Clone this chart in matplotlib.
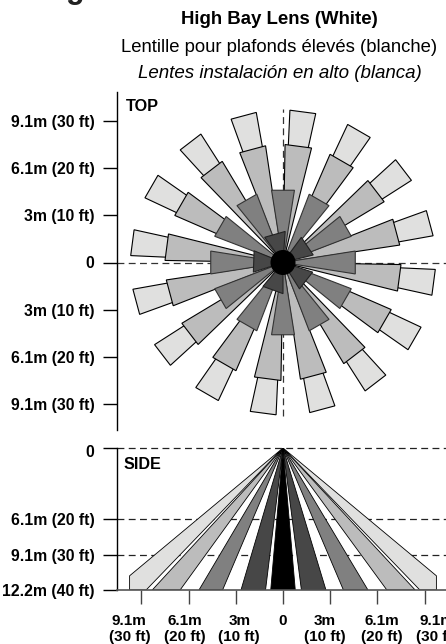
import numpy as np
import matplotlib
matplotlib.use("Agg")
import matplotlib.pyplot as plt
from matplotlib.patches import Polygon, Circle
from matplotlib.transforms import ScaledTranslation

plt.rcParams["font.family"] = ["Liberation Sans", "DejaVu Sans"]

# top view, feet: centre angle (deg from north), half width, reach
light_angles = [7.5, 30, 52.5, 75, 97.5, 120, 142.5, 165, 187.5, 210, 232.5, 255, 277.5, 300, 322.5, 345]
light_half = 4.9
light_reach = 32.3
medium_half = 6.5
medium_reach = 25.0
gray_angles = [0, 30, 60, 90, 120, 150, 180, 210, 240, 270, 300, 330]
gray_half = 9.0
gray_reach = 15.5
dark_angles = [344, 56, 128, 200, 272]
dark_half = 20.0
dark_reach = 6.6
hub_radius = 2.5
guide_reach = 32.6

# side view, feet at the 40 ft floor line
side_black = (-2.6, 2.6)
side_dark = [(-8.9, -3.7), (3.9, 9.1)]
side_gray = [(-17.8, -12.8), (12.8, 18.0)]
side_medium = [(-27.7, -21.8), (22.0, 28.0)]
side_light_inner = 29.0
side_light_cut_x = 32.5
side_light_cut_y = 36.0
side_floor = 40

top_ticks = [30, 20, 10, 0, -10, -20, -30]
top_labels = ["9.1m (30 ft)", "6.1m (20 ft)", "3m (10 ft)", "0", "3m (10 ft)", "6.1m (20 ft)", "9.1m (30 ft)"]
side_ticks = [0, 20, 30, 40]
side_labels = ["0", "6.1m (20 ft)", "9.1m (30 ft)", "12.2m (40 ft)"]
floor_ticks = [-30, -20, -10, 0, 10, 20, 30]
floor_labels = ["9.1m\n(30 ft)", "6.1m\n(20 ft)", "3m\n(10 ft)", "0", "3m\n(10 ft)", "6.1m\n(20 ft)", "9.1m\n(30 ft)"]
floor_label_shift_px = [-12, -4, 3.5, 0, -5, 4, 12]

W, H = 446, 644
LIGHT, MEDIUM, GRAY, DARK = "#e0e0df", "#bcbcbc", "#808080", "#474747"
DASH = (0, (5.5, 3.5))
LABEL_SIZE = 11.3


def px_axes(fig, left, top, right, bottom):
    return fig.add_axes([left / W, 1 - bottom / H, (right - left) / W, (bottom - top) / H])


def spoke(ax, angle, half, reach, color, edge="black", lw=0.8):
    a = np.radians([angle - half, angle + half])
    pts = [(0, 0), (reach * np.sin(a[0]), reach * np.cos(a[0])), (reach * np.sin(a[1]), reach * np.cos(a[1]))]
    ax.add_patch(Polygon(pts, closed=True, fc=color, ec=edge, lw=lw, joinstyle="miter", zorder=3))


def style_axis(ax):
    for s in ["top", "right", "bottom"]:
        ax.spines[s].set_visible(False)
    ax.spines["left"].set_linewidth(1.0)
    ax.set_xticks([])
    ax.tick_params(axis="y", length=10, width=1.0, pad=6.5)
    for t in ax.get_yticklabels():
        t.set_fontweight("bold")
        t.set_fontsize(LABEL_SIZE)


fig = plt.figure(figsize=(W / 100, H / 100), dpi=100)

# TOP
ppf = 4.72
top = px_axes(fig, 117.5, 92, 446, 430)
top.set_xlim((117.5 - 283) / ppf, (446 - 283) / ppf)
top.set_ylim((262.5 - 430) / ppf, (262.5 - 92) / ppf)
top.set_yticks(top_ticks, top_labels)
style_axis(top)
top.axhline(0, color="#333333", lw=0.9, ls=DASH, zorder=1)
top.plot([0, 0], [-guide_reach, guide_reach], color="#333333", lw=0.9, ls=DASH, zorder=1)
for a in light_angles:
    spoke(top, a, light_half, light_reach, LIGHT)
for a in light_angles:
    spoke(top, a, medium_half, medium_reach, MEDIUM)
for a in gray_angles:
    spoke(top, a, gray_half, gray_reach, GRAY, edge="#333333")
for a in dark_angles:
    spoke(top, a, dark_half, dark_reach, DARK, edge="#222222")
top.add_patch(Circle((0, 0), hub_radius, fc="black", ec="black", zorder=4))
top.text(0.026, 0.98, "TOP", transform=top.transAxes, fontsize=11.7, fontweight="bold", va="top", ha="left")

# SIDE
side = px_axes(fig, 117.5, 448, 446, 590)
side.set_xlim((117.5 - 283) / ppf, (446 - 283) / ppf)
side.set_ylim(side_floor, 0)
side.set_yticks(side_ticks, side_labels)
style_axis(side)
# the 0 label sits a little under its tick
zero_label = side.get_yticklabels()[0]
zero_label.set_transform(zero_label.get_transform() + ScaledTranslation(0, -3 / 100, fig.dpi_scale_trans))
for y in side_ticks[:-1]:
    side.axhline(y, color="#222222", lw=0.9, ls=DASH, zorder=1, clip_on=False)
side.axhline(side_floor, color="#555555", lw=1.2, zorder=5, clip_on=False)
bands = [(side_medium, MEDIUM), (side_gray, GRAY), (side_dark, DARK), ([side_black], "black")]
for group, c in bands:
    for x0, x1 in group:
        side.add_patch(Polygon([(0, 0), (x0, side_floor), (x1, side_floor)], fc=c, ec="black", lw=0.6, zorder=3))
for sgn in [-1, 1]:
    pts = [(0, 0), (sgn * side_light_cut_x, side_light_cut_y), (sgn * side_light_cut_x, side_floor),
           (sgn * side_light_inner, side_floor)]
    side.add_patch(Polygon(pts, fc=LIGHT, ec="black", lw=0.6, zorder=3))
side.text(0.018, 0.935, "SIDE", transform=side.transAxes, fontsize=11.6, fontweight="bold", va="top", ha="left")
side.set_xticks(floor_ticks, [""] * len(floor_ticks))
side.tick_params(axis="x", length=10, width=1.0, color="#444444")
for x, lab, dx in zip(floor_ticks, floor_labels, floor_label_shift_px):
    side.annotate(lab, (x, side_floor), xytext=(dx * 0.72, -17), textcoords="offset points",
                  ha="center", va="top", fontsize=11, fontweight="bold", linespacing=1.25, annotation_clip=False)

# headings
fig.text(66 / W, 1 + 2 / H, "g", fontsize=22, fontweight="bold", color="#222222", ha="left", va="baseline")
fig.text(279.5 / W, 1 - 20 / H, "High Bay Lens (White)", fontsize=13.4, fontweight="bold", ha="center", va="center")
fig.text(279 / W, 1 - 47 / H, "Lentille pour plafonds élevés (blanche)", fontsize=13.3, ha="center", va="center")
fig.text(280 / W, 1 - 73 / H, "Lentes instalación en alto (blanca)", fontsize=13.5, style="italic", ha="center", va="center")

fig.savefig("out.png", dpi=100)
